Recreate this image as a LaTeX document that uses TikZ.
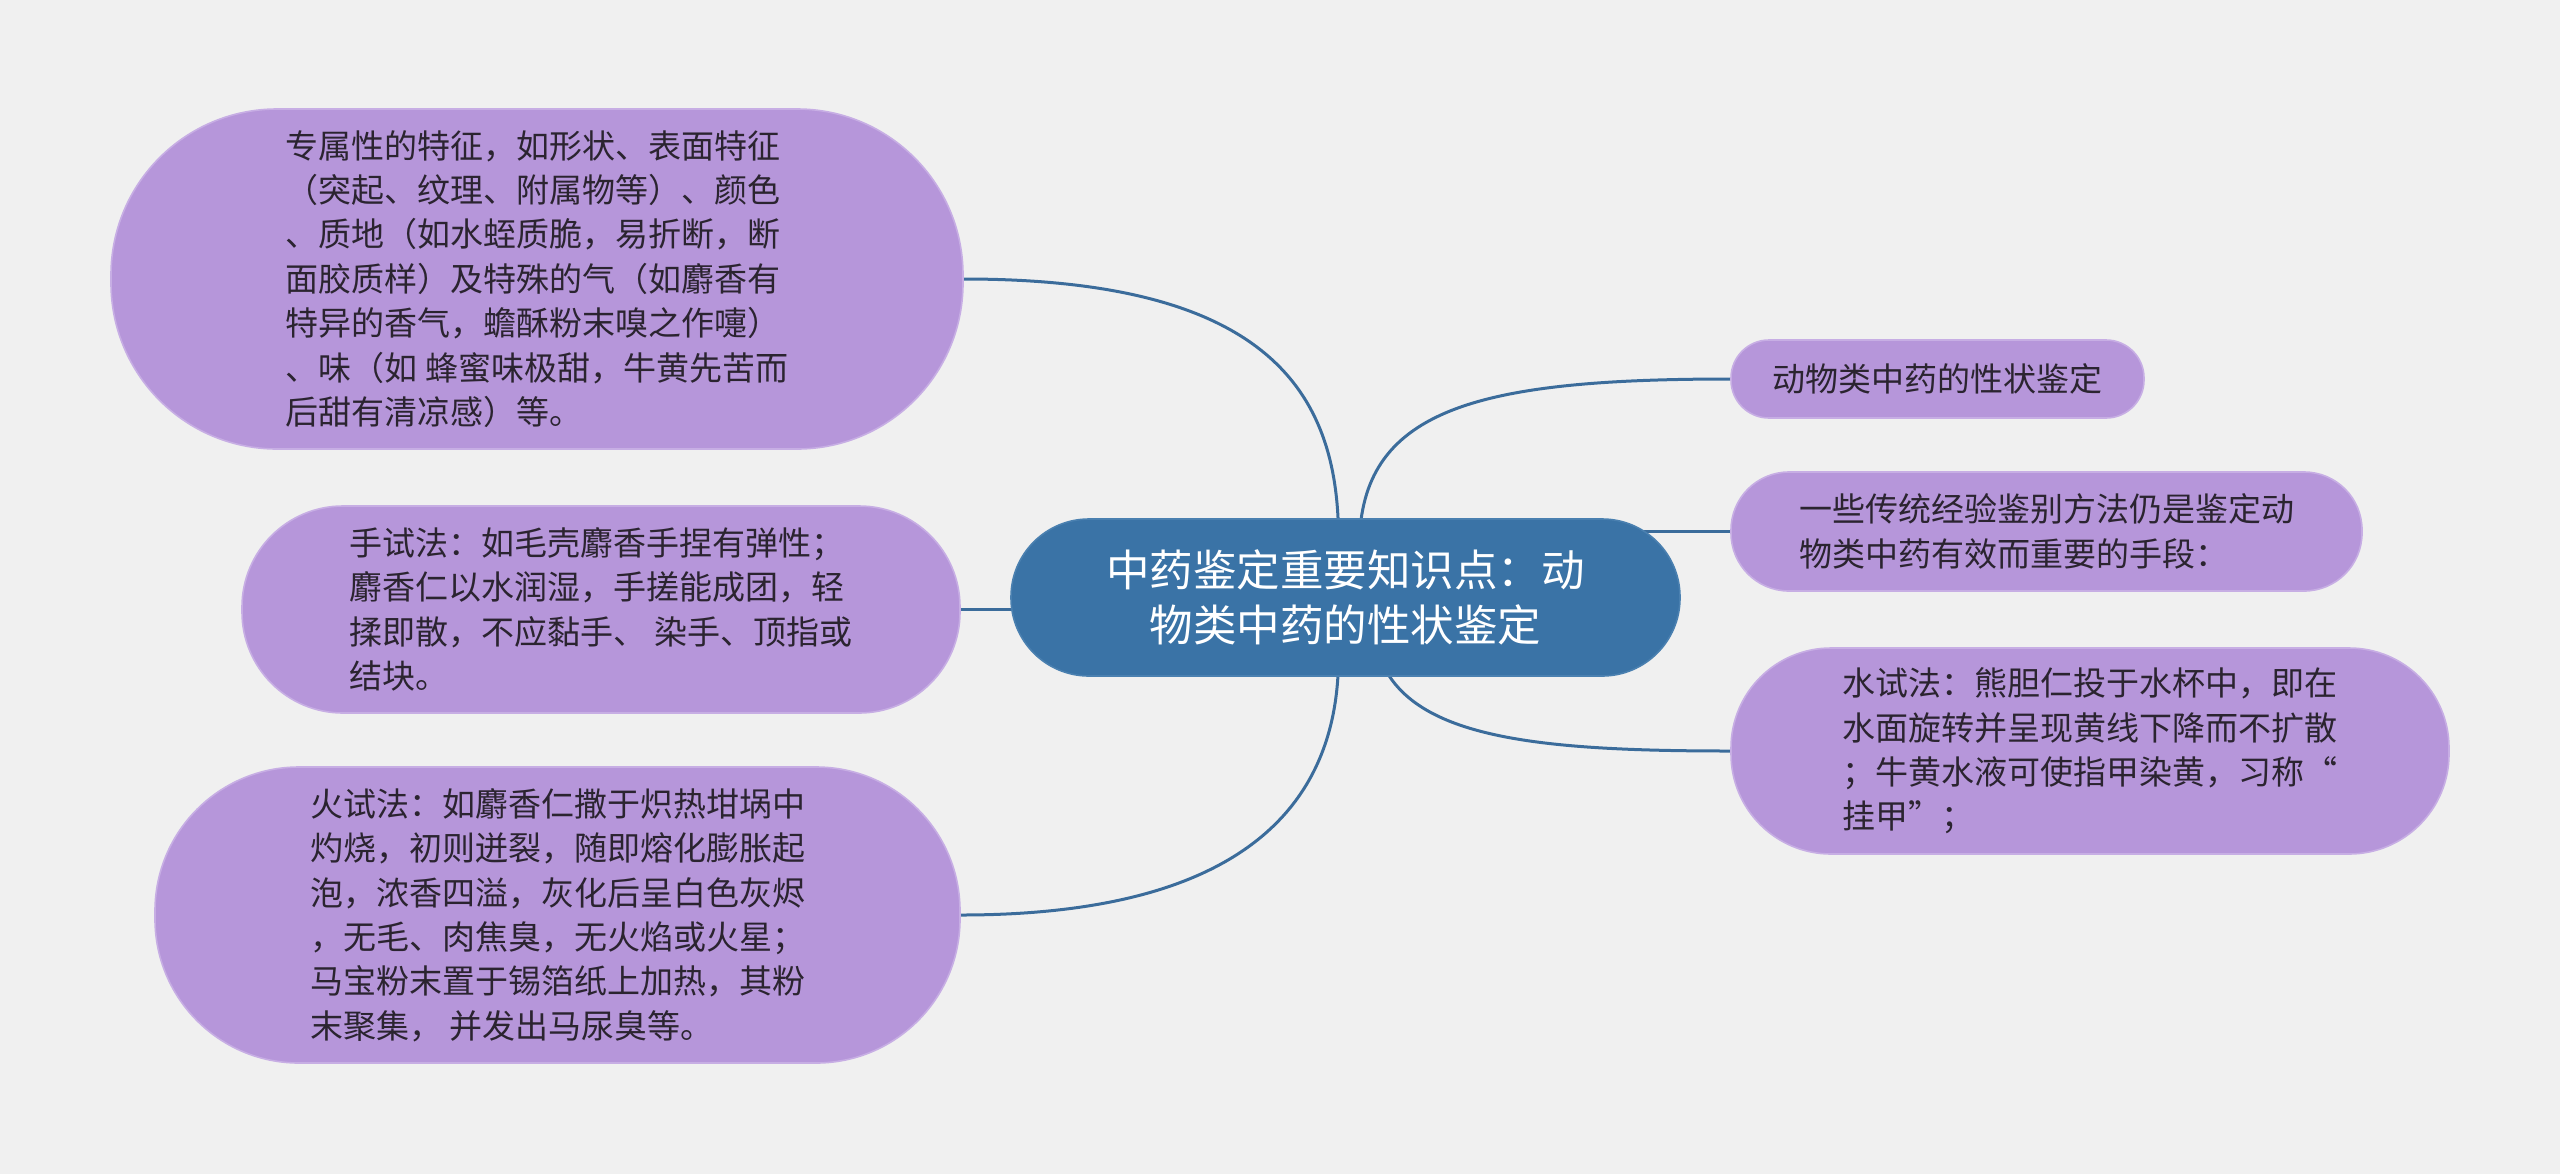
\documentclass[tikz,border=0pt]{standalone}
\usepackage{fontspec}
\newfontfamily\cjk{Noto Sans CJK SC}
\usetikzlibrary{calc}
\definecolor{bgc}{HTML}{F0F0F0}
\definecolor{purp}{HTML}{B696DA}
\definecolor{purpedge}{HTML}{C7AEE4}
\definecolor{cblue}{HTML}{3A73A6}
\definecolor{cblueedge}{HTML}{4A80B0}
\definecolor{linkc}{HTML}{3B6C9B}
\definecolor{txt}{HTML}{2B2430}
\pgfdeclarelayer{bg}
\pgfsetlayers{bg,main}
\tikzset{
  leaf/.style={fill=purp, draw=purpedge, line width=0.8pt, align=left, text=txt,
    font=\cjk\fontsize{16.5}{22.2}\selectfont, inner sep=0pt},
  root/.style={fill=cblue, draw=cblueedge, line width=0.8pt, align=center, text=white,
    font=\cjk\fontsize{21.75}{27.75}\selectfont, inner sep=0pt},
  link/.style={draw=linkc, line width=1.5pt}
}
\begin{document}
\begin{tikzpicture}[x=0.5pt,y=-0.5pt]
\useasboundingbox (0,0) rectangle (2560,1174);

\node[root, minimum width=334.5pt, minimum height=78.5pt, rounded corners=39pt] (central) at (1345.5,597.5)
  {中药鉴定重要知识点：动\\物类中药的性状鉴定};

\node[leaf, minimum width=426pt, minimum height=170pt, rounded corners=83pt] (A) at (537,279)
  {专属性的特征，如形状、表面特征\\（突起、纹理、附属物等）、颜色\\、质地（如水蛭质脆，易折断，断\\面胶质样）及特殊的气（如麝香有\\特异的香气，蟾酥粉末嗅之作嚏）\\、味（如 蜂蜜味极甜，牛黄先苦而\\后甜有清凉感）等。};

\node[leaf, minimum width=359pt, minimum height=103.5pt, rounded corners=50.5pt] (B) at (601,609.5)
  {手试法：如毛壳麝香手捏有弹性；\\麝香仁以水润湿，手搓能成团，轻\\揉即散，不应黏手、 染手、顶指或\\结块。};

\node[leaf, minimum width=402.5pt, minimum height=148pt, rounded corners=72pt] (C) at (557.5,915)
  {火试法：如麝香仁撒于炽热坩埚中\\灼烧，初则迸裂，随即熔化膨胀起\\泡，浓香四溢，灰化后呈白色灰烬\\，无毛、肉焦臭，无火焰或火星；\\马宝粉末置于锡箔纸上加热，其粉\\末聚集， 并发出马尿臭等。};

\node[leaf, minimum width=206.5pt, minimum height=39pt, rounded corners=19pt] (D) at (1937.5,379)
  {动物类中药的性状鉴定};

\node[leaf, minimum width=315.5pt, minimum height=59.5pt, rounded corners=29pt] (E) at (2046.5,531.5)
  {一些传统经验鉴别方法仍是鉴定动\\物类中药有效而重要的手段：};

\node[leaf, minimum width=359pt, minimum height=103pt, rounded corners=50pt] (F) at (2090,751)
  {水试法：熊胆仁投于水杯中，即在\\水面旋转并呈现黄线下降而不扩散\\；牛黄水液可使指甲染黄，习称“\\挂甲”；};

\coordinate (cA) at ($(central.north)+(-7,20)$);
\coordinate (cD) at ($(central.north)+(14,20)$);
\coordinate (cC) at ($(central.south)+(-7,-20)$);
\coordinate (cF) at ($(central.south)+(34,-20)$);

\begin{pgfonlayer}{bg}
\fill[bgc] (0,0) rectangle (2560,1174);
\draw[link] (A.east) .. controls +(300,0) and +(0,-150) .. (cA);
\draw[link] (B.east) -- ($(B.east -| central.west)+(20,0)$);
\draw[link] (C.east) .. controls +(280,0) and +(0,150) .. (cC);
\draw[link] (cD) .. controls +(5,-130) and +(-250,0) .. (D.west);
\draw[link] (E.west) -- (E.west -| central.center);
\draw[link] (cF) .. controls +(30,80) and +(-200,0) .. (F.west);
\end{pgfonlayer}
\end{tikzpicture}
\end{document}
